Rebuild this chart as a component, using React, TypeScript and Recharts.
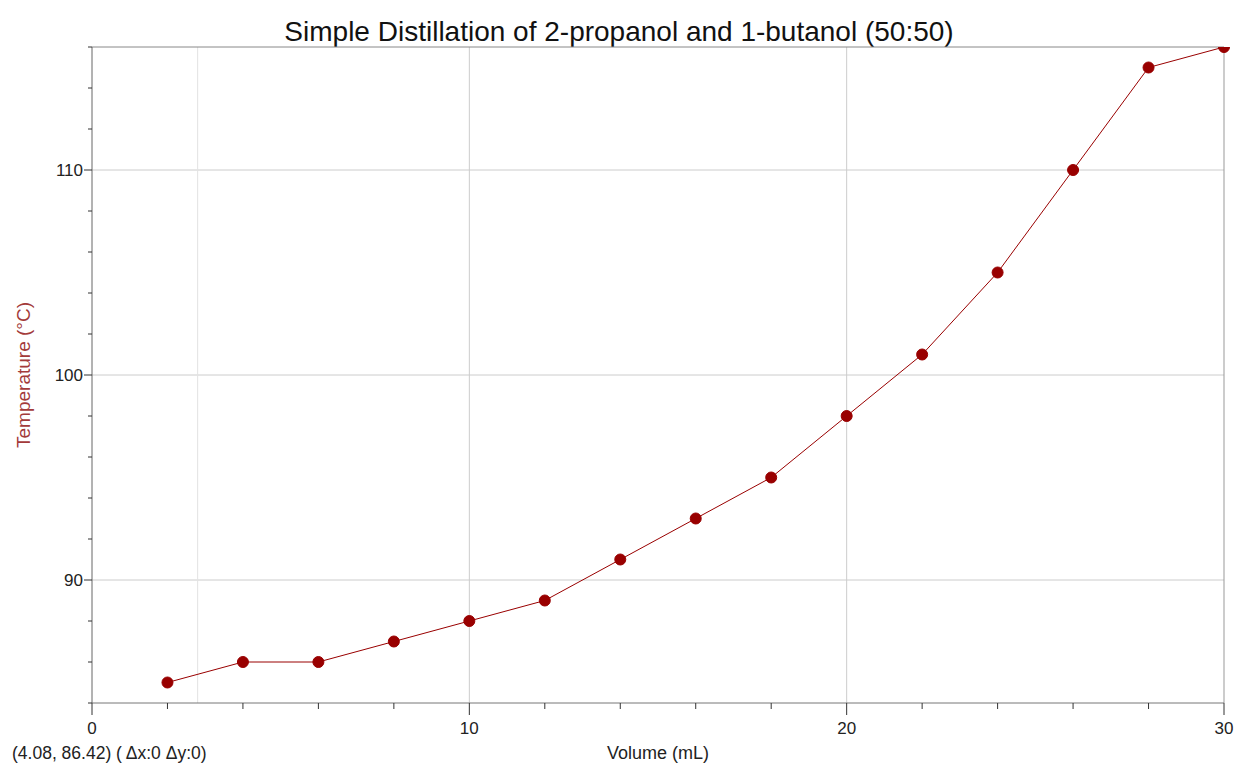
import React from 'react';
import { LineChart, Line, XAxis, YAxis, CartesianGrid, ReferenceLine } from 'recharts';

const volume = [2, 4, 6, 8, 10, 12, 14, 16, 18, 20, 22, 24, 26, 28, 30];
const temperature = [85, 86, 86, 87, 88, 89, 91, 93, 95, 98, 101, 105, 110, 115, 116];

const xTicks = [0, 2, 4, 6, 8, 10, 12, 14, 16, 18, 20, 22, 24, 26, 28, 30];
const yTicks = [84, 86, 88, 90, 92, 94, 96, 98, 100, 102, 104, 106, 108, 110, 112, 114, 116];
const xMajor = [0, 10, 20, 30];
const yMajor = [90, 100, 110];

const data = volume.map((v, i) => ({ volume: v, temp: temperature[i] }));

const FONT = '"Liberation Sans", Arial, sans-serif';
const RED = '#990000';

const XTick = (props: any) => {
  const { x, y, payload } = props;
  const major = xMajor.includes(payload.value);
  return (
    <g>
      <line x1={x} y1={y} x2={x} y2={y + (major ? 12 : 6)} stroke="#333" strokeWidth={1} />
      {major && (
        <text x={x} y={y + 31} textAnchor="middle" fontSize={17} fontFamily={FONT} fill="#222">
          {payload.value}
        </text>
      )}
    </g>
  );
};

const YTick = (props: any) => {
  const { x, y, payload } = props;
  const major = yMajor.includes(payload.value);
  return (
    <g>
      <line x1={x - (major ? 8 : 4)} y1={y} x2={x} y2={y} stroke="#333" strokeWidth={1} />
      {major && (
        <text x={x - 9} y={y + 6} textAnchor="end" fontSize={17} fontFamily={FONT} fill="#222">
          {payload.value}
        </text>
      )}
    </g>
  );
};

export default function App() {
  return (
    <div style={{ position: 'absolute', left: 0, top: 0, width: 1241, height: 765, background: '#fff' }}>
      <LineChart
        width={1241}
        height={765}
        data={data}
        margin={{ top: 47, right: 17, bottom: 22, left: 0 }}
      >
        <text x={619} y={41} textAnchor="middle" fontSize={28} fontFamily={FONT} fill="#111">
          Simple Distillation of 2-propanol and 1-butanol (50:50)
        </text>
        <CartesianGrid
          stroke="#cccccc"
          horizontalValues={yMajor}
          verticalValues={[10, 20]}
        />
        <ReferenceLine x={2.8} stroke="#e2e2e2" />
        <ReferenceLine y={116} stroke="#888" />
        <ReferenceLine x={30} stroke="#999" />
        <XAxis
          dataKey="volume"
          type="number"
          domain={[0, 30]}
          ticks={xTicks}
          interval={0}
          height={40}
          tickSize={0}
          tickMargin={0}
          tickLine={false}
          axisLine={{ stroke: '#777' }}
          tick={<XTick />}
        />
        <YAxis
          type="number"
          domain={[84, 116]}
          ticks={yTicks}
          interval={0}
          width={92}
          tickSize={0}
          tickMargin={0}
          tickLine={false}
          axisLine={{ stroke: '#666' }}
          tick={<YTick />}
          allowDataOverflow
        />
        <Line
          dataKey="temp"
          stroke={RED}
          strokeWidth={1}
          dot={{ r: 5.5, fill: RED, stroke: RED, strokeWidth: 1 }}
          isAnimationActive={false}
        />
        <text
          x={30}
          y={375}
          transform="rotate(-90 30 375)"
          textAnchor="middle"
          fontSize={19}
          fontFamily={FONT}
          fill="#a33a3a"
        >
          Temperature (°C)
        </text>
        <text x={658} y={759} textAnchor="middle" fontSize={18} fontFamily={FONT} fill="#222">
          Volume (mL)
        </text>
        <text x={12} y={759} fontSize={17.5} fontFamily={FONT} fill="#222">
          (4.08, 86.42) ( Δx:0 Δy:0)
        </text>
      </LineChart>
    </div>
  );
}
